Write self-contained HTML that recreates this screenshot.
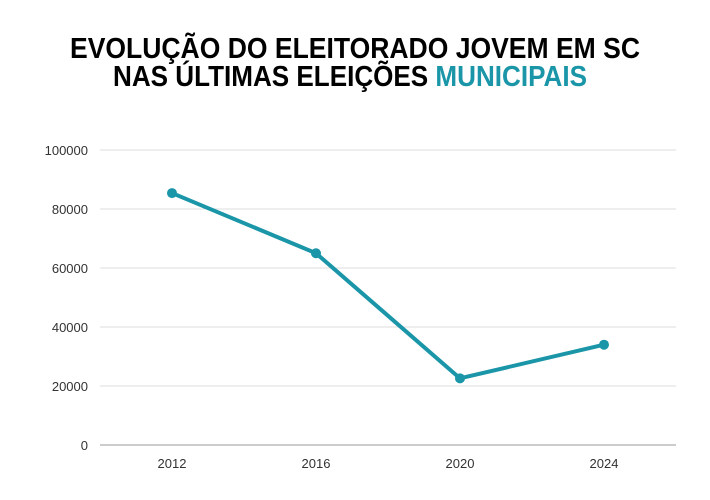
<!DOCTYPE html>
<html><head><meta charset="utf-8"><style>
html,body{margin:0;padding:0;background:#fff;}
svg{display:block;}
</style></head><body>
<svg id="chart" width="710" height="500" viewBox="0 0 710 500" xmlns="http://www.w3.org/2000/svg" font-family="'Liberation Sans', sans-serif">
<text x="355" y="58" text-anchor="middle" font-size="29" font-weight="bold" fill="#000" textLength="570" lengthAdjust="spacingAndGlyphs">EVOLUÇÃO DO ELEITORADO JOVEM EM SC</text>
<text x="350" y="86" text-anchor="middle" font-size="29" font-weight="bold" fill="#000" textLength="474" lengthAdjust="spacingAndGlyphs">NAS ÚLTIMAS ELEIÇÕES <tspan fill="#1a96a8">MUNICIPAIS</tspan></text>
<g id="grid"></g>
<g id="marks"></g>
</svg>
<script>
const categories = ["2012","2016","2020","2024"];
const values = [85400, 65000, 22600, 34000];
const yTicks = [0,20000,40000,60000,80000,100000];
const NS="http://www.w3.org/2000/svg";
const x0=100,x1=676,y0=445,y1=150,yMax=100000;
const band=(x1-x0)/categories.length;
const xs=i=>x0+band*(i+0.5);
const ys=v=>y0-(v/yMax)*(y0-y1);
const grid=document.getElementById('grid'), marks=document.getElementById('marks');
function mk(tag,attrs,parent){const e=document.createElementNS(NS,tag);for(const k in attrs)e.setAttribute(k,attrs[k]);parent.appendChild(e);return e;}
yTicks.forEach(t=>{
  const l=mk('line',{x1:x0,x2:x1,y1:ys(t),y2:ys(t),stroke:t===0?'#999':'#dcdcdc','stroke-width':1},grid);
  
  
  const tx=mk('text',{x:88,y:ys(t)+5,'text-anchor':'end','font-size':13,fill:'#333'},grid);
  tx.textContent=t;
  
  
});
categories.forEach((c,i)=>{
  const tx=mk('text',{x:xs(i),y:468,'text-anchor':'middle','font-size':13,fill:'#333'},grid);
  tx.textContent=c;
  
  
});
const pts=values.map((v,i)=>xs(i)+','+ys(v)).join(' ');
const pl=mk('polyline',{points:pts,fill:'none',stroke:'#1a96a8','stroke-width':4,'stroke-linejoin':'round'},marks);


values.forEach((v,i)=>{
  const c=mk('circle',{cx:xs(i),cy:ys(v),r:5,fill:'#1a96a8'},marks);
  
  
});
</script>
</body></html>
